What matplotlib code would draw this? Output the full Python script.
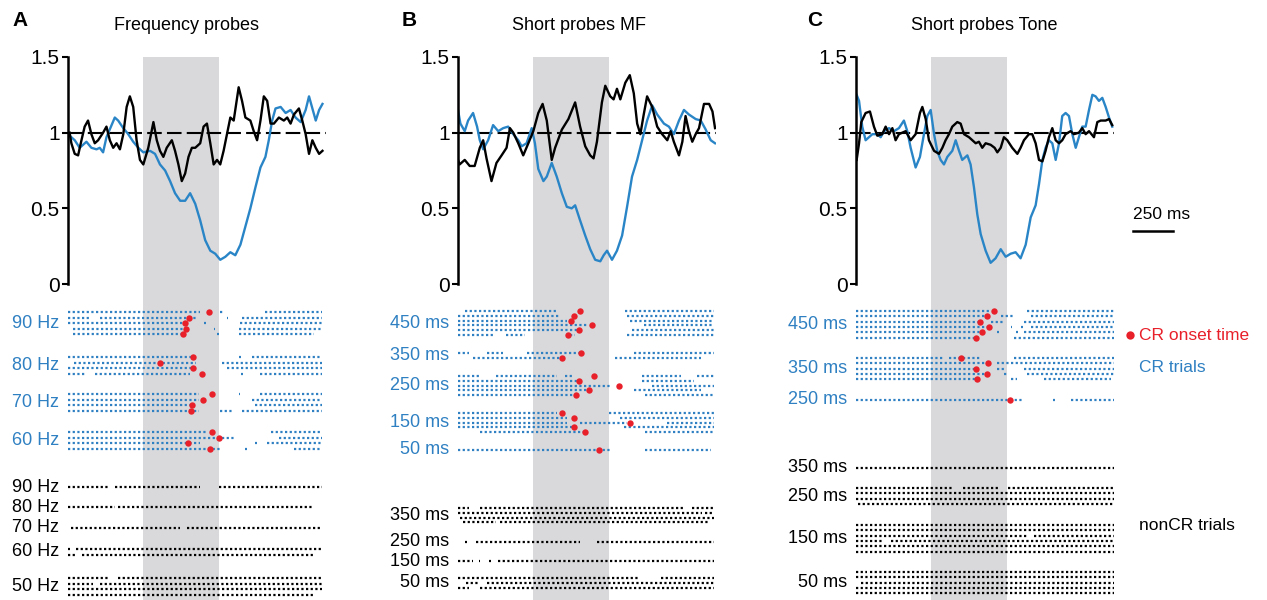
import numpy as np
import matplotlib.pyplot as plt
from matplotlib.transforms import blended_transform_factory

plt.rcParams['font.family'] = ['Liberation Sans', 'DejaVu Sans']

W, H = 1267, 600
fig = plt.figure(figsize=(W / 100, H / 100), dpi=100)

BLUE = '#2a85c7'
RBLUE = '#2f80c2'
RED = '#e8202a'
BAND = '#d9d9db'

# ---------------- data: normalised firing (top plots), time in ms rel. CS onset
cs_window = (0, 470)

A_t_blue = [-460, -428, -397, -355, -324, -292, -272, -251, -230, -198, -178, -157, -125, -94, -63, -31, 0, 42, 73,
            104, 136, 167, 198, 230, 261, 292, 324, 355, 386, 418, 449, 480, 512, 543, 574, 606, 637, 668, 700, 731,
            762, 783, 804, 825, 857, 888, 919, 950, 982, 1013, 1034, 1055, 1076, 1097, 1118]
A_v_blue = [0.98, 0.95, 0.90, 0.94, 0.90, 0.89, 0.90, 0.87, 0.97, 1.05, 1.10, 1.08, 1.03, 0.99, 0.94, 0.90, 0.87, 0.88,
            0.86, 0.79, 0.75, 0.68, 0.60, 0.55, 0.55, 0.60, 0.53, 0.42, 0.29, 0.22, 0.20, 0.16, 0.18, 0.21, 0.19, 0.26,
            0.38, 0.50, 0.64, 0.77, 0.84, 0.95, 1.08, 1.16, 1.17, 1.13, 1.15, 1.10, 1.07, 1.15, 1.24, 1.16, 1.08, 1.15,
            1.19]
A_t_black = [-460, -449, -428, -407, -386, -366, -345, -324, -303, -282, -251, -230, -209, -188, -167, -146, -125, -104,
             -84, -63, -42, -21, 0, 31, 63, 84, 104, 125, 146, 178, 198, 219, 240, 261, 282, 303, 324, 355, 376, 397,
             418, 439, 460, 480, 501, 522, 543, 564, 595, 616, 637, 668, 689, 710, 731, 752, 773, 794, 815, 846, 877,
             898, 919, 940, 971, 992, 1013, 1034, 1055, 1076, 1097, 1118]
A_v_black = [1.00, 0.93, 0.86, 0.85, 0.95, 1.04, 1.08, 0.99, 0.93, 0.95, 1.00, 1.04, 0.95, 0.90, 0.93, 0.89, 0.99, 1.17,
             1.24, 1.17, 0.95, 0.82, 0.79, 0.90, 1.07, 0.95, 0.88, 0.84, 0.90, 0.95, 0.88, 0.79, 0.68, 0.73, 0.84, 0.90,
             0.90, 0.93, 1.04, 1.06, 0.93, 0.79, 0.82, 0.79, 0.88, 0.99, 1.10, 1.08, 1.30, 1.21, 1.10, 1.08, 1.01, 0.95,
             1.08, 1.24, 1.21, 1.06, 1.06, 1.10, 1.08, 1.10, 1.06, 1.12, 1.16, 1.08, 0.99, 0.86, 0.95, 0.90, 0.86, 0.88]

B_t_blue = [-470, -455, -428, -407, -376, -351, -334, -313, -282, -251, -219, -188, -157, -125, -94, -73, -42, -10, 10,
            31, 63, 84, 115, 146, 178, 209, 240, 261, 292, 324, 355, 386, 418, 439, 460, 491, 522, 554, 585, 616, 648,
            679, 710, 742, 773, 815, 846, 877, 909, 940, 971, 1013, 1045, 1076, 1107, 1134]
B_v_blue = [1.15, 1.06, 1.01, 1.08, 1.13, 1.04, 0.95, 0.89, 0.95, 1.05, 1.01, 1.03, 1.04, 0.99, 0.95, 0.91, 0.93, 1.03,
            0.93, 0.76, 0.68, 0.71, 0.80, 0.71, 0.60, 0.51, 0.50, 0.52, 0.42, 0.32, 0.23, 0.16, 0.15, 0.19, 0.22, 0.16,
            0.22, 0.32, 0.51, 0.71, 0.82, 0.95, 1.08, 1.18, 1.12, 1.06, 1.04, 0.99, 1.08, 1.15, 1.12, 1.09, 1.08, 1.02,
            0.95, 0.93]
B_t_black = [-470, -460, -428, -397, -366, -334, -313, -292, -261, -230, -198, -167, -146, -125, -94, -63, -31, 0, 31,
             58, 84, 115, 136, 178, 219, 261, 292, 324, 355, 376, 397, 428, 449, 480, 501, 522, 543, 574, 602, 627,
             648, 668, 689, 710, 742, 773, 804, 836, 857, 877, 909, 930, 950, 971, 992, 1013, 1034, 1065, 1097, 1118,
             1134]
B_v_black = [0.82, 0.79, 0.82, 0.78, 0.78, 0.90, 0.95, 0.83, 0.68, 0.80, 0.85, 0.90, 1.03, 1.00, 0.93, 0.85, 0.93, 1.01,
             1.13, 1.19, 1.08, 0.82, 0.90, 1.02, 1.09, 1.20, 1.04, 0.91, 0.85, 0.83, 0.94, 1.20, 1.31, 1.24, 1.22, 1.29,
             1.22, 1.33, 1.38, 1.26, 1.06, 0.99, 1.12, 1.24, 1.17, 1.04, 0.99, 0.95, 1.01, 0.94, 0.85, 0.94, 1.11, 1.01,
             0.94, 0.99, 1.03, 1.19, 1.19, 1.14, 1.03]

C_t_blue = [-466, -451, -431, -410, -389, -368, -337, -316, -295, -264, -233, -202, -171, -150, -129, -98, -71, -46,
            -25, -4, 17, 37, 58, 79, 100, 131, 152, 173, 193, 225, 245, 266, 287, 308, 339, 370, 401, 433, 464, 495,
            526, 557, 589, 620, 651, 672, 693, 713, 734, 755, 776, 797, 817, 838, 859, 880, 901, 921, 942, 963, 984,
            1005, 1025, 1046, 1067, 1088, 1109, 1129]
C_v_blue = [1.25, 1.21, 1.04, 0.95, 0.97, 0.99, 0.99, 0.97, 1.01, 1.03, 1.01, 1.03, 1.08, 1.01, 0.90, 0.77, 0.84, 0.99,
            1.11, 1.15, 0.99, 0.88, 0.82, 0.79, 0.84, 0.88, 0.95, 0.88, 0.82, 0.85, 0.79, 0.64, 0.46, 0.33, 0.22, 0.14,
            0.17, 0.23, 0.18, 0.20, 0.21, 0.17, 0.26, 0.44, 0.52, 0.66, 0.82, 0.90, 0.95, 0.93, 0.82, 0.93, 1.11, 1.13,
            1.11, 0.99, 0.90, 0.97, 1.04, 1.04, 1.15, 1.25, 1.24, 1.21, 1.23, 1.17, 1.10, 1.04]
C_t_black = [-466, -451, -437, -410, -383, -358, -337, -306, -285, -264, -243, -223, -202, -181, -160, -129, -98, -71,
             -56, -35, -15, 17, 48, 69, 89, 110, 131, 162, 183, 204, 235, 256, 277, 297, 318, 339, 370, 395, 412, 433,
             453, 474, 505, 537, 557, 578, 609, 630, 651, 672, 693, 713, 734, 755, 776, 797, 817, 838, 869, 890, 921,
             942, 963, 984, 1015, 1036, 1057, 1088, 1109, 1129]
C_v_black = [0.82, 0.93, 1.07, 1.13, 1.14, 1.04, 0.98, 0.99, 1.04, 0.99, 1.03, 0.95, 0.99, 1.00, 1.01, 0.95, 0.99, 1.13,
             1.17, 1.09, 0.95, 0.88, 0.86, 0.90, 0.95, 0.99, 1.04, 1.07, 1.06, 0.99, 0.97, 0.95, 0.93, 0.94, 0.90, 0.93,
             0.92, 0.90, 0.87, 0.90, 0.97, 0.95, 0.90, 0.86, 0.90, 0.95, 0.99, 0.99, 0.93, 0.82, 0.81, 0.88, 0.97, 1.03,
             0.95, 0.93, 0.95, 0.99, 1.01, 0.99, 1.00, 1.03, 0.99, 1.01, 0.97, 1.07, 1.08, 1.08, 1.09, 1.05]

# ---------------- raster data: firing segments (ms) per trial, CR onset per CR trial
A_cr_labels = ['90 Hz', '80 Hz', '70 Hz', '60 Hz']
A_cr_trials = [
    [[(-470, 355), (480, 500), (760, 1118)],
     [(-470, -340), (-270, 330), (520, 530), (616, 1118)],
     [(-470, 270), (380, 390), (606, 1118)],
     [(-440, 280), (440, 450), (595, 1118)],
     [(-440, 260), (460, 470), (595, 1066)]],
    [[(-470, 310), (600, 610), (679, 1118)],
     [(-430, 330), (491, 1118)],
     [(-470, 330), (522, 1118)],
     [(-470, -360), (-300, 290), (612, 620), (731, 1118)]],
    [[(-470, 350), (596, 606), (731, 1118)],
     [(-470, 350), (679, 1118)],
     [(-470, 310), (700, 1118)],
     [(-470, 350), (480, 564), (616, 1118)]],
    [[(-470, 397), (794, 1118)],
     [(-470, 564), (846, 1118)],
     [(-470, 355), (700, 710), (773, 1118)],
     [(-470, 480), (637, 647), (940, 1118)]],
]
A_cr_onsets = [[412, 282, 258, 265, 247], [313, 104, 313, 364], [430, 372, 303, 297], [430, 474, 278, 414]]
A_non_labels = ['90 Hz', '80 Hz', '70 Hz', '60 Hz', '50 Hz']
A_non_trials = [
    [[(-470, -209), (-178, 355), (470, 1118)]],
    [[(-470, -178), (-157, 1066)]],
    [[(-450, 230), (272, 1118)]],
    [[(-470, -460), (-420, 1118)], [(-470, -420), (-380, 1066)]],
    [[(-470, -209), (-157, 1118)], [(-470, -313), (-272, 1118)], [(-470, 1118)], [(-470, 1066)]],
]

B_cr_labels = ['450 ms', '350 ms', '250 ms', '150 ms', '50 ms']
B_cr_trials = [
    [[(-428, 146), (574, 1128)],
     [(-470, 167), (585, 1128)],
     [(-470, 209), (606, 1128)],
     [(-470, 334), (690, 1128)],
     [(-470, 272), (616, 1128)],
     [(-470, -250), (-170, -50), (230, 260), (585, 1128)]],
    [[(-470, -400), (-290, -190), (-40, 292), (627, 1128)],
     [(-376, 167), (512, 1045)]],
    [[(-470, -334), (-230, 146), (200, 250), (679, 920), (1020, 1128)],
     [(-470, 292), (679, 1003)],
     [(-470, 480), (742, 1128)],
     [(-470, 334), (627, 1045)],
     [(-470, 251), (700, 1128)]],
    [[(-470, 146), (470, 1128)],
     [(-470, 209), (543, 1128)],
     [(-470, 209), (292, 585), (836, 1128)],
     [(-470, 251), (564, 1128)],
     [(-334, 313), (700, 1128)]],
    [[(-470, 480), (700, 1107)]],
]
B_cr_onsets = [[292, 255, 236, 365, 288, 217], [297, 178], [376, 288, 533, 345, 267], [182, 255, 602, 251, 320], [407]]
B_non_labels = ['350 ms', '250 ms', '150 ms', '50 ms']
B_non_trials = [
    [[(-470, -400), (-330, 940), (990, 1128)], [(-470, 1050), (1070, 1128)], [(-460, 1128)],
     [(-440, -230), (-210, 1100)]],
    [[(-425, -415), (-355, 292), (397, 1128)]],
    [[(-470, -376), (-340, -330), (-275, -265), (-220, 1128)]],
    [[(-470, 668), (794, 1128)], [(-420, -330), (-290, 1128)], [(-470, -400), (-330, 1128)]],
]

C_cr_labels = ['450 ms', '350 ms', '250 ms']
C_cr_trials = [
    [[(-472, 370), (599, 1140)],
     [(-472, 350), (433, 516), (620, 1140)],
     [(-472, 297), (370, 453), (578, 1140)],
     [(-472, 350), (495, 505), (560, 570), (620, 1140)],
     [(-472, 308), (412, 422), (530, 540), (580, 1140)],
     [(-472, 266), (516, 1140)]],
    [[(-472, 70), (110, 308), (516, 1140)],
     [(-472, 354), (412, 1140)],
     [(-472, 277), (412, 453), (578, 1140)],
     [(-472, 350), (453, 473), (599, 1140)],
     [(-472, 283), (495, 537), (703, 1119)]],
    [[(-472, 578), (760, 770), (869, 1140)]],
]
C_cr_onsets = [[391, 345, 302, 360, 314, 281], [187, 354, 277, 350, 283], [489]]
C_non_labels = ['350 ms', '250 ms', '150 ms', '50 ms']
C_non_trials = [
    [[(-472, 1140)]],
    [[(-472, 140), (200, 430), (480, 1140)], [(-472, 1140)], [(-472, 1140)], [(-460, 1140)]],
    [[(-472, 1140)], [(-472, 1140)], [(-472, 600), (640, 1140)], [(-472, -300), (-250, 1140)], [(-472, 1140)],
     [(-472, 1140)]],
    [[(-472, -400), (-380, 1140)], [(-472, 1140)], [(-440, 1140)], [(-472, 1140)], [(-472, 1140)]],
]

# ---------------- layout (pixels)
XLIM = (-470, 1140)
panels = [
    dict(letter='A', title='Frequency probes', left=68, tx=187, lx=12,
         lines=(A_t_blue, A_v_blue, A_t_black, A_v_black),
         cr=(A_cr_labels, A_cr_trials, A_cr_onsets, [312, 357, 394, 432]),
         non=(A_non_labels, A_non_trials, [487, 507, 528, 549, 578]), sp=5.5),
    dict(letter='B', title='Short probes MF', left=458, tx=579, lx=402,
         lines=(B_t_blue, B_v_blue, B_t_black, B_v_black),
         cr=(B_cr_labels, B_cr_trials, B_cr_onsets, [311, 353, 376, 413, 450]),
         non=(B_non_labels, B_non_trials, [508, 542, 561, 578]), sp=4.8),
    dict(letter='C', title='Short probes Tone', left=856, tx=984, lx=807,
         lines=(C_t_blue, C_v_blue, C_t_black, C_v_black),
         cr=(C_cr_labels, C_cr_trials, C_cr_onsets, [311, 358, 400]),
         non=(C_non_labels, C_non_trials, [468, 488, 525, 572]), sp=5.35),
]
AX_W = 258
TOP, MID, BOT = 57, 284, 600


def px_axes(left, top, width, height):
    return fig.add_axes([left / W, 1 - (top + height) / H, width / W, height / H])


def draw_group(ax, label, trials, top, sp, color, onsets=None):
    ys = [top + i * sp for i in range(len(trials))]
    for y, segs in zip(ys, trials):
        for s, e in segs:
            ax.plot([s, e], [y, y], color=color, lw=1.6, ls=(0, (1, 1.1)),
                    dash_capstyle='butt', solid_capstyle='butt')
    if onsets is not None:
        ax.plot(onsets, ys, 'o', color=RED, ms=4.6, mec='none', zorder=5)
    tr = blended_transform_factory(ax.transAxes, ax.transData)
    ax.annotate(label, xy=(0, np.mean(ys)), xycoords=tr, xytext=(-6.5, 0),
                textcoords='offset points', ha='right', va='center',
                fontsize=13, color=color)


for p in panels:
    # top: normalised rate
    ax = px_axes(p['left'], TOP, AX_W, MID - TOP)
    ax.axvspan(*cs_window, color=BAND, lw=0, zorder=0)
    ax.axhline(1, color='black', lw=1.5, ls=(0, (7, 2.5)), zorder=1)
    tb, vb, tk, vk = p['lines']
    ax.plot(tb, vb, color=BLUE, lw=1.7, zorder=2, solid_joinstyle='round')
    ax.plot(tk, vk, color='black', lw=1.7, zorder=3, solid_joinstyle='round')
    ax.set_xlim(*XLIM)
    ax.set_ylim(0, 1.5)
    ax.patch.set_alpha(0)
    for s in ['top', 'right', 'bottom']:
        ax.spines[s].set_visible(False)
    ax.spines['left'].set_linewidth(1.8)
    ax.set_xticks([])
    ax.set_yticks([0, 0.5, 1, 1.5])
    ax.set_yticklabels(['0', '0.5', '1', '1.5'])
    ax.tick_params(axis='y', direction='out', length=4, width=1.5, pad=2, labelsize=15)
    p['ax_top'] = ax

    # bottom: rasters
    rx = px_axes(p['left'], MID, AX_W, BOT - MID)
    rx.axvspan(*cs_window, color=BAND, lw=0, zorder=0)
    rx.set_xlim(*XLIM)
    rx.set_ylim(BOT, MID)
    rx.axis('off')
    labels, trials, onsets, tops = p['cr']
    for lab, tr_, on, top in zip(labels, trials, onsets, tops):
        draw_group(rx, lab, tr_, top, p['sp'], RBLUE, on)
    labels, trials, tops = p['non']
    for lab, tr_, top in zip(labels, trials, tops):
        draw_group(rx, lab, tr_, top, p['sp'], 'black')
    p['ax_r'] = rx

    fig.text(p['lx'] / W, 1 - 20 / H, p['letter'], fontsize=15, fontweight='bold', va='center')
    fig.text(p['tx'] / W, 1 - 25 / H, p['title'], fontsize=13, ha='center', va='center')

# scale bar (250 ms) and legend texts next to panel C
axc = panels[2]['ax_top']
axc.plot([1258, 1258 + 250], [0.35, 0.35], color='black', lw=1.8, clip_on=False)
axc.text(1258, 0.46, '250 ms', fontsize=12.5, ha='left', va='center', clip_on=False)

rxc = panels[2]['ax_r']
rxc.plot([1240], [335], 'o', color=RED, ms=6, mec='none', clip_on=False)
fig.text(1139 / W, 1 - 335 / H, 'CR onset time', color=RED, fontsize=12.5, va='center')
fig.text(1139 / W, 1 - 367 / H, 'CR trials', color=RBLUE, fontsize=12.5, va='center')
fig.text(1139 / W, 1 - 525 / H, 'nonCR trials', color='black', fontsize=12.5, va='center')

fig.savefig('out.png', dpi=100)
